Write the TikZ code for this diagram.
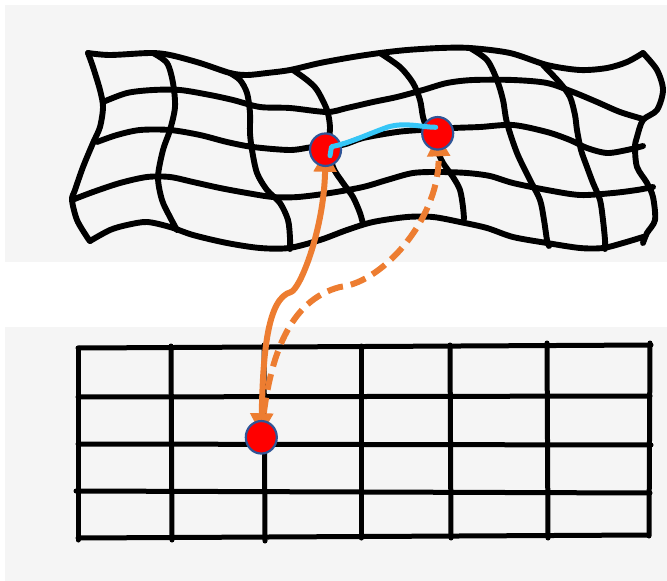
\documentclass[tikz,border=0pt]{standalone}
\usetikzlibrary{arrows.meta,shapes.geometric}
\definecolor{panel}{RGB}{245,245,245}
\definecolor{arrowor}{RGB}{237,125,49}
\definecolor{linkblue}{RGB}{54,198,247}
\definecolor{dotrim}{RGB}{47,85,151}
\pgfdeclarelayer{back}
\pgfdeclarelayer{mid}
\pgfsetlayers{back,mid,main}
\tikzset{
  meshline/.style={line width=5.9pt, line cap=round, line join=round},
  gridline/.style={line width=5pt, line cap=round},
  dot/.style={ellipse, minimum width=31pt, minimum height=32.5pt, inner sep=0pt,
              fill=red, draw=dotrim, line width=2.2pt},
  orangeline/.style={draw=arrowor, line width=6pt},
  blueline/.style={draw=linkblue, line width=5pt, line cap=round, line join=round}
}
\begin{document}
\begin{tikzpicture}[x=1pt, y=-1pt]
\useasboundingbox (0,0) rectangle (667,581);

% paper panels
\begin{pgfonlayer}{back}
  \fill[panel] (5,5) rectangle (667,262);
  \fill[panel] (5,327) rectangle (667,581);
\end{pgfonlayer}

% the three points
\node[dot] (tl) at (325.5,149.7) {};
\node[dot] (tr) at (437.7,133.3) {};
\node[dot] (bot) at (261.3,437.3) {};

\begin{pgfonlayer}{mid}
  % deformed mesh: horizontal strands
  \draw[meshline] plot[smooth] coordinates {(88,53) (110,55) (150,53) (170,55) (200,63) (230,73) (247,75) (267,73) (290,70) (320,63) (353,57) (380,53) (407,50) (440,48) (470,48) (510,53) (547,65) (580,70) (607,68) (627,62) (643,53)};
  \draw[meshline] plot[smooth] coordinates {(103,102) (127,93) (153,90) (180,90) (210,95) (233,100) (260,107) (290,108) (327,112) (347,108) (373,102) (397,97) (423,90) (447,83) (473,80) (513,80) (547,83) (573,92) (597,102) (620,112) (643,119)};
  \draw[meshline] plot[smooth] coordinates {(97,142) (117,135) (140,130) (170,130) (200,135) (227,142) (253,147) (290,150) (313,147) (342,145) (363,138) (397,132) (420,130) (453,128) (480,127) (513,125) (547,132) (570,140) (587,148) (607,153) (627,150) (643,146)};
  \draw[meshline] plot[smooth] coordinates {(72,200) (93,192) (120,183) (147,177) (170,177) (193,182) (220,188) (247,193) (273,197) (298,197) (330,193) (363,187) (387,180) (413,173) (440,172) (467,173) (490,176) (513,183) (547,190) (580,195) (613,193) (637,190) (653,187)};
  \draw[meshline] plot[smooth] coordinates {(90,241) (110,230) (127,225) (147,222) (170,227) (193,235) (227,243) (260,248) (289,248) (320,240) (347,230) (373,222) (407,217) (433,217) (460,222) (487,228) (513,237) (547,243) (580,248) (603,248) (623,243) (643,237)};
  % deformed mesh: vertical strands
  \draw[meshline] plot[smooth] coordinates {(88,53) (93,67) (100,90) (103,107) (100,127) (93,143) (83,167) (75,190) (72,200) (77,220) (87,237) (90,241)};
  \draw[meshline] plot[smooth] coordinates {(153,53) (167,63) (173,83) (175,107) (170,130) (163,150) (158,177) (162,200) (170,217) (177,230)};
  \draw[meshline] plot[smooth] coordinates {(230,73) (240,80) (247,93) (250,113) (250,133) (252,150) (257,173) (267,190) (280,203) (288,220) (290,238) (290,249)};
  \draw[meshline] plot[smooth] coordinates {(293,70) (307,80) (317,90) (327,110) (330,127) (329,143) (333,167) (343,183) (353,197) (360,213) (363,224)};
  \draw[meshline] plot[smooth] coordinates {(380,53) (400,67) (413,83) (420,100) (423,117) (428,132) (436,148) (443,163) (453,177) (460,190) (463,207) (464,219)};
  \draw[meshline] plot[smooth] coordinates {(470,48) (487,60) (497,80) (503,100) (507,123) (517,153) (530,180) (540,200) (544,220) (547,240) (549,246)};
  \draw[meshline] plot[smooth] coordinates {(543,65) (560,83) (570,97) (575,115) (577,130) (581,150) (587,167) (593,183) (600,200) (603,220) (605,240) (605,249)};
  \draw[meshline] plot[smooth] coordinates {(643,53) (657,70) (663,90) (657,110) (643,120) (637,137) (635,147) (637,167) (647,183) (653,197) (655,220) (647,233) (643,243)};

  % regular grid
  \draw[gridline] (78,348) -- (651,345);
  \draw[gridline] (78,397) -- (650,396);
  \draw[gridline] (78,444) -- (651,445);
  \draw[gridline] (76,491) -- (650,493);
  \draw[gridline] (78,538) -- (648,535);
  \draw[gridline] (78,348) -- (78,540);
  \draw[gridline] (171,346) -- (172,540);
  \draw[gridline] (264,345) -- (265,541);
  \draw[gridline] (361,346) -- (361,538);
  \draw[gridline] (450,345) -- (451,538);
  \draw[gridline] (547,343) -- (548,538);
  \draw[gridline] (650,343) -- (649,536);

  % correspondence arrows; the long heads reach in under the points
  \draw[orangeline, {Triangle[width=22pt,length=22pt]}-{Triangle[width=22pt,length=21pt]},
        shorten <=2pt, shorten >=1pt]
    (bot.center) .. controls (263,350) and (268,298) .. (291,292)
    .. controls (300,289) and (324,230) .. (tl.center);
  \draw[orangeline, dash pattern=on 16pt off 8pt, -{Triangle[width=22pt,length=22pt]},
        shorten >=1pt]
    (bot.center) .. controls (268,355) and (290,300) .. (340,287)
    .. controls (385,282) and (441,215) .. (tr.center);
\end{pgfonlayer}

% link between the two mapped points
\draw[blueline] ([shift={(4.5,6)}]tl.center) -- ([shift={(6,-3)}]tl.center)
  .. controls (350,143) and (368,134) .. (388,127)
  .. controls (405,122) and (420,127) .. ([shift={(-2,-6)}]tr.center);
\end{tikzpicture}
\end{document}
